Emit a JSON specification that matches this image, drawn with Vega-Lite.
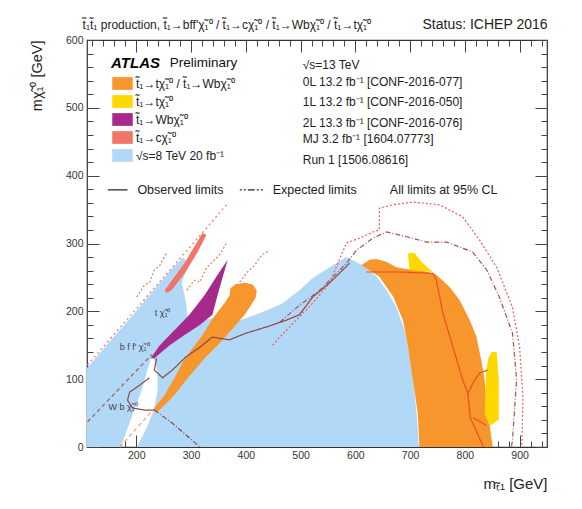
{
"$schema":"https://vega.github.io/schema/vega-lite/v6.json",
"autosize":{"type":"none"},
"width":460,"height":407,
"padding":{"left":87,"top":40,"right":35,"bottom":62},
"background":"white",
"config":{"view":{"stroke":"#333","strokeWidth":1.2},"font":"Liberation Sans"},
"datasets":{
"poly":[
{"r":"b","p":"b","x":110,"y":0},{"r":"b","p":"b","x":110,"y":116.5},{"r":"b","p":"b","x":151,"y":155},{"r":"b","p":"b","x":197,"y":197.5},{"r":"b","p":"b","x":243,"y":242},{"r":"b","p":"b","x":266,"y":264},{"r":"b","p":"b","x":285,"y":279},{"r":"b","p":"b","x":297,"y":271},{"r":"b","p":"b","x":283,"y":243},{"r":"b","p":"b","x":290,"y":217},{"r":"b","p":"b","x":294,"y":190},{"r":"b","p":"b","x":325,"y":187},{"r":"b","p":"b","x":338,"y":190},{"r":"b","p":"b","x":389,"y":187},{"r":"b","p":"b","x":418,"y":195},{"r":"b","p":"b","x":443,"y":203},{"r":"b","p":"b","x":467,"y":212},{"r":"b","p":"b","x":498,"y":231},{"r":"b","p":"b","x":522,"y":249},{"r":"b","p":"b","x":553,"y":265},{"r":"b","p":"b","x":584,"y":280},{"r":"b","p":"b","x":613,"y":268},{"r":"b","p":"b","x":639,"y":251},{"r":"b","p":"b","x":657,"y":231},{"r":"b","p":"b","x":675,"y":206},{"r":"b","p":"b","x":690,"y":172},{"r":"b","p":"b","x":703,"y":118},{"r":"b","p":"b","x":712,"y":50},{"r":"b","p":"b","x":716,"y":0},{"r":"b","p":"b","x":201,"y":0},{"r":"b","p":"b","x":219,"y":28},{"r":"b","p":"b","x":233,"y":57},{"r":"b","p":"b","x":239,"y":84},{"r":"b","p":"b","x":239,"y":111},{"r":"b","p":"b","x":233,"y":128},{"r":"b","p":"b","x":228,"y":133},{"r":"b","p":"b","x":220,"y":113},{"r":"b","p":"b","x":210,"y":84},{"r":"b","p":"b","x":193,"y":47},{"r":"b","p":"b","x":180,"y":18},{"r":"b","p":"b","x":172,"y":0},
{"r":"s","p":"s","x":252,"y":231},{"r":"s","p":"s","x":264.5,"y":245},{"r":"s","p":"s","x":288,"y":271},{"r":"s","p":"s","x":308,"y":298},{"r":"s","p":"s","x":321,"y":315.5},{"r":"s","p":"s","x":328,"y":312.5},{"r":"s","p":"s","x":312,"y":287.5},{"r":"s","p":"s","x":290,"y":258},{"r":"s","p":"s","x":264.5,"y":231},{"r":"s","p":"s","x":255,"y":227},
{"r":"pu","p":"pu","x":226,"y":131},{"r":"pu","p":"pu","x":243,"y":150},{"r":"pu","p":"pu","x":270,"y":172.5},{"r":"pu","p":"pu","x":297,"y":195},{"r":"pu","p":"pu","x":325,"y":224},{"r":"pu","p":"pu","x":348.5,"y":254},{"r":"pu","p":"pu","x":367,"y":276},{"r":"pu","p":"pu","x":359,"y":254},{"r":"pu","p":"pu","x":348.5,"y":224},{"r":"pu","p":"pu","x":339,"y":195},{"r":"pu","p":"pu","x":316,"y":180},{"r":"pu","p":"pu","x":288,"y":165},{"r":"pu","p":"pu","x":261,"y":150},{"r":"pu","p":"pu","x":233,"y":131},
{"r":"o","p":"o1","x":230,"y":54.5},{"r":"o","p":"o1","x":252,"y":77},{"r":"o","p":"o1","x":270,"y":102},{"r":"o","p":"o1","x":285,"y":125},{"r":"o","p":"o1","x":303,"y":146},{"r":"o","p":"o1","x":321,"y":165},{"r":"o","p":"o1","x":337.5,"y":187},{"r":"o","p":"o1","x":348.5,"y":199},{"r":"o","p":"o1","x":361,"y":212},{"r":"o","p":"o1","x":370,"y":223},{"r":"o","p":"o1","x":372,"y":234},{"r":"o","p":"o1","x":381,"y":240},{"r":"o","p":"o1","x":398,"y":242},{"r":"o","p":"o1","x":412,"y":240},{"r":"o","p":"o1","x":420,"y":231},{"r":"o","p":"o1","x":418,"y":220},{"r":"o","p":"o1","x":407,"y":206},{"r":"o","p":"o1","x":398,"y":195},{"r":"o","p":"o1","x":389,"y":187},{"r":"o","p":"o1","x":374,"y":172.5},{"r":"o","p":"o1","x":361,"y":161},{"r":"o","p":"o1","x":348.5,"y":150},{"r":"o","p":"o1","x":325,"y":131},{"r":"o","p":"o1","x":306.5,"y":113.5},{"r":"o","p":"o1","x":288,"y":96},{"r":"o","p":"o1","x":270,"y":77},{"r":"o","p":"o1","x":252,"y":62},{"r":"o","p":"o1","x":239,"y":52},
{"r":"o","p":"o2","x":611,"y":268},{"r":"o","p":"o2","x":626,"y":276},{"r":"o","p":"o2","x":638,"y":277},{"r":"o","p":"o2","x":656.5,"y":273},{"r":"o","p":"o2","x":675,"y":265},{"r":"o","p":"o2","x":696,"y":262},{"r":"o","p":"o2","x":723,"y":260},{"r":"o","p":"o2","x":748,"y":254},{"r":"o","p":"o2","x":772,"y":236},{"r":"o","p":"o2","x":790,"y":217},{"r":"o","p":"o2","x":809,"y":187},{"r":"o","p":"o2","x":821,"y":163},{"r":"o","p":"o2","x":830,"y":128},{"r":"o","p":"o2","x":836,"y":99},{"r":"o","p":"o2","x":842,"y":50},{"r":"o","p":"o2","x":851,"y":0},{"r":"o","p":"o2","x":717,"y":0},{"r":"o","p":"o2","x":714,"y":50},{"r":"o","p":"o2","x":705,"y":99},{"r":"o","p":"o2","x":696,"y":148},{"r":"o","p":"o2","x":687,"y":187},{"r":"o","p":"o2","x":669,"y":222},{"r":"o","p":"o2","x":644,"y":251},{"r":"o","p":"o2","x":620,"y":263},
{"r":"y","p":"y1","x":696,"y":285.5},{"r":"y","p":"y1","x":708,"y":286},{"r":"y","p":"y1","x":721,"y":273},{"r":"y","p":"y1","x":741,"y":258},{"r":"y","p":"y1","x":717,"y":259.5},{"r":"y","p":"y1","x":699,"y":261},
{"r":"y","p":"y2","x":839,"y":113.5},{"r":"y","p":"y2","x":843,"y":131},{"r":"y","p":"y2","x":849,"y":140},{"r":"y","p":"y2","x":858,"y":140},{"r":"y","p":"y2","x":862,"y":99},{"r":"y","p":"y2","x":862,"y":40},{"r":"y","p":"y2","x":845,"y":31},{"r":"y","p":"y2","x":836,"y":50}
],
"lines":[
{"c":"expR","s":"a","x":449,"y":150},{"c":"expR","s":"a","x":462,"y":162},{"c":"expR","s":"a","x":522,"y":212},{"c":"expR","s":"a","x":553,"y":242},{"c":"expR","s":"a","x":584,"y":301},{"c":"expR","s":"a","x":608,"y":308},{"c":"expR","s":"a","x":632,"y":317},{"c":"expR","s":"a","x":644,"y":320},{"c":"expR","s":"a","x":644,"y":352},{"c":"expR","s":"a","x":668,"y":357},{"c":"expR","s":"a","x":705,"y":361},{"c":"expR","s":"a","x":754,"y":357},{"c":"expR","s":"a","x":796,"y":339},{"c":"expR","s":"a","x":827,"y":305},{"c":"expR","s":"a","x":858,"y":265},{"c":"expR","s":"a","x":887,"y":206},{"c":"expR","s":"a","x":900,"y":147},{"c":"expR","s":"a","x":906,"y":74},{"c":"expR","s":"a","x":904,"y":0},
{"c":"expB","s":"b","x":462,"y":184},{"c":"expB","s":"b","x":498,"y":209},{"c":"expB","s":"b","x":535,"y":231},{"c":"expB","s":"b","x":584,"y":271},{"c":"expB","s":"b","x":602,"y":290},{"c":"expB","s":"b","x":632,"y":308},{"c":"expB","s":"b","x":657,"y":317},{"c":"expB","s":"b","x":694,"y":310},{"c":"expB","s":"b","x":730,"y":302},{"c":"expB","s":"b","x":767,"y":302},{"c":"expB","s":"b","x":814,"y":287.5},{"c":"expB","s":"b","x":840,"y":261},{"c":"expB","s":"b","x":863,"y":221},{"c":"expB","s":"b","x":887,"y":168},{"c":"expB","s":"b","x":894.5,"y":99},{"c":"expB","s":"b","x":887,"y":10},{"c":"expB","s":"b","x":885,"y":0},
{"c":"obsB","s":"c","x":237,"y":131},{"c":"obsB","s":"c","x":233,"y":113.5},{"c":"obsB","s":"c","x":248,"y":102},{"c":"obsB","s":"c","x":266,"y":113.5},{"c":"obsB","s":"c","x":291,"y":133},{"c":"obsB","s":"c","x":316,"y":147},{"c":"obsB","s":"c","x":339,"y":162},{"c":"obsB","s":"c","x":370,"y":158},{"c":"obsB","s":"c","x":401,"y":168},{"c":"obsB","s":"c","x":438,"y":177},{"c":"obsB","s":"c","x":474,"y":187},{"c":"obsB","s":"c","x":498,"y":195},{"c":"obsB","s":"c","x":522,"y":221},{"c":"obsB","s":"c","x":553,"y":242},{"c":"obsB","s":"c","x":577,"y":261},{"c":"obsB","s":"c","x":589.5,"y":271},
{"c":"obsB","s":"d","x":224,"y":102},{"c":"obsB","s":"d","x":206,"y":91},{"c":"obsB","s":"d","x":188,"y":81},{"c":"obsB","s":"d","x":184,"y":69},{"c":"obsB","s":"d","x":193,"y":57.5},{"c":"obsB","s":"d","x":215,"y":54.5},{"c":"obsB","s":"d","x":233,"y":54.5},
{"c":"ddB","s":"e","x":233,"y":54.5},{"c":"ddB","s":"e","x":266,"y":35},{"c":"ddB","s":"e","x":316,"y":0},
{"c":"obsO","s":"f","x":620,"y":258},{"c":"obsO","s":"f","x":681,"y":258},{"c":"obsO","s":"f","x":742,"y":256},{"c":"obsO","s":"f","x":748,"y":246},{"c":"obsO","s":"f","x":760,"y":197},{"c":"obsO","s":"f","x":778,"y":148},{"c":"obsO","s":"f","x":796,"y":99},{"c":"obsO","s":"f","x":805.5,"y":79},{"c":"obsO","s":"f","x":818,"y":99},{"c":"obsO","s":"f","x":827,"y":109},{"c":"obsO","s":"f","x":842,"y":113.5},
{"c":"obsO","s":"g","x":805.5,"y":79},{"c":"obsO","s":"g","x":810,"y":43},{"c":"obsO","s":"g","x":834,"y":0},
{"c":"obsO","s":"h","x":815,"y":43},{"c":"obsO","s":"h","x":839,"y":32},
{"c":"d1","s":"i","x":111,"y":121},{"c":"d1","s":"i","x":365,"y":357},
{"c":"d2","s":"j","x":111,"y":37},{"c":"d2","s":"j","x":228,"y":136},
{"c":"d3","s":"k","x":170,"y":0},{"c":"d3","s":"k","x":230,"y":54.5},
{"c":"jag","s":"l","x":201,"y":221},{"c":"jag","s":"l","x":215,"y":239},{"c":"jag","s":"l","x":224,"y":242},{"c":"jag","s":"l","x":233,"y":261},{"c":"jag","s":"l","x":243,"y":268},{"c":"jag","s":"l","x":255,"y":286},
{"c":"jag","s":"m","x":292,"y":231},{"c":"jag","s":"m","x":306.5,"y":246},{"c":"jag","s":"m","x":316,"y":243},{"c":"jag","s":"m","x":328,"y":264},{"c":"jag","s":"m","x":343,"y":276},{"c":"jag","s":"m","x":352,"y":283},{"c":"jag","s":"m","x":365,"y":301},
{"c":"jag","s":"n","x":389,"y":243},{"c":"jag","s":"n","x":403,"y":258},{"c":"jag","s":"n","x":416,"y":268},{"c":"jag","s":"n","x":429,"y":283},{"c":"jag","s":"n","x":443,"y":290},
{"c":"keyObs","s":"o","x":148,"y":379},{"c":"keyObs","s":"o","x":184,"y":379},
{"c":"keyExp","s":"p","x":389,"y":379},{"c":"keyExp","s":"p","x":431,"y":379}
],
"notes":[
{"g":"hl","x":102,"y":622,"t":"t\u0303\u2081t\u0303\u2081 production, t\u0303\u2081\u2192bff'\u03c7\u0303\u2081\u2070 / t\u0303\u2081\u2192c\u03c7\u0303\u2081\u2070 / t\u0303\u2081\u2192Wb\u03c7\u0303\u2081\u2070 / t\u0303\u2081\u2192t\u03c7\u0303\u2081\u2070"},
{"g":"hr","x":951,"y":622,"t":"Status: ICHEP 2016"},
{"g":"atlas","x":154,"y":566,"t":"ATLAS"},
{"g":"prel","x":261,"y":566,"t":"Preliminary"},
{"g":"col","x":504,"y":563,"t":"\u221as=13 TeV"},
{"g":"col","x":504,"y":537.6,"t":"0L 13.2 fb\u207b\u00b9 [CONF-2016-077]"},
{"g":"col","x":504,"y":508.2,"t":"1L 13.2 fb\u207b\u00b9 [CONF-2016-050]"},
{"g":"col","x":504,"y":477.2,"t":"2L 13.3 fb\u207b\u00b9 [CONF-2016-076]"},
{"g":"col","x":504,"y":453.6,"t":"MJ 3.2 fb\u207b\u00b9 [1604.07773]"},
{"g":"col","x":504,"y":422.8,"t":"Run 1 [1506.08616]"},
{"g":"row","x":202,"y":379,"t":"Observed limits"},
{"g":"row","x":449,"y":379,"t":"Expected limits"},
{"g":"row","x":663,"y":379,"t":"All limits at 95% CL"},
{"g":"lab","x":248,"y":197.5,"t":"t \u03c7\u0303\u2081\u2070"},
{"g":"lab","x":197,"y":147,"t":"b f f' \u03c7\u0303\u2081\u2070"},
{"g":"lab","x":176,"y":59,"t":"W b \u03c7\u0303\u2081\u2070"}
]
},
"resolve":{"axis":{"x":"independent","y":"independent"}},
"layer":[
{"data":{"name":"poly"},"transform":[{"filter":"datum.r == 'b'"}],
 "mark":{"type":"line","filled":true,"interpolate":"linear-closed","strokeWidth":0},
 "encoding":{
  "x":{"field":"x","type":"quantitative","scale":{"domain":[110,950],"nice":false,"zero":false},
   "axis":{"orient":"bottom","values":[200,300,400,500,600,700,800,900],"tickSize":-12,"tickColor":"#444","labelPadding":15,"labelFontSize":10.5,"labelColor":"#333","labelFont":"Liberation Sans","domain":false,"grid":false,"title":"m\u209c\u0303\u2081 [GeV]","titleAnchor":"end","titleFontSize":15,"titleFontWeight":"normal","titleFont":"Liberation Sans","titleColor":"#222","titlePadding":16}},
  "y":{"field":"y","type":"quantitative","scale":{"domain":[0,600],"nice":false,"zero":false},
   "axis":{"orient":"left","values":[0,100,200,300,400,500,600],"tickSize":-12,"tickColor":"#444","labelPadding":16,"labelFontSize":10.5,"labelColor":"#333","labelFont":"Liberation Sans","domain":false,"grid":false,"title":"m\u03c7\u0303\u2081\u2070 [GeV]","titleAnchor":"end","titleFontSize":14.5,"titleFontWeight":"normal","titleFont":"Liberation Sans","titleColor":"#222","titlePadding":21}},
  "fill":{"field":"r","type":"nominal","scale":{"domain":["o","y","pu","s","b"],"range":["#f8962e","#ffd800","#a52a8c","#f07468","#b2d8f8"]},
   "legend":{"orient":"none","legendX":25,"legendY":33,"title":null,"padding":0,"symbolType":"M-1,-0.62H1V0.62H-1Z","symbolSize":420,"symbolStrokeWidth":0,"symbolOpacity":1,"labelFontSize":12,"labelFont":"Liberation Sans","labelColor":"#222","labelOffset":3,"rowPadding":1,
   "labelExpr":"datum.label == 'o' ? 't\u0303\u2081\u2192t\u03c7\u0303\u2081\u2070 / t\u0303\u2081\u2192Wb\u03c7\u0303\u2081\u2070' : datum.label == 'y' ? 't\u0303\u2081\u2192t\u03c7\u0303\u2081\u2070' : datum.label == 'pu' ? 't\u0303\u2081\u2192Wb\u03c7\u0303\u2081\u2070' : datum.label == 's' ? 't\u0303\u2081\u2192c\u03c7\u0303\u2081\u2070' : '\u221as=8 TeV 20 fb\u207b\u00b9'"}},
  "order":{"value":null}}},
{"data":{"name":"poly"},"transform":[{"filter":"datum.r == 's'"}],
 "mark":{"type":"line","filled":true,"interpolate":"linear-closed","strokeWidth":0},
 "encoding":{
  "x":{"field":"x","type":"quantitative","axis":{"orient":"bottom","values":[120,140,160,180,220,240,260,280,320,340,360,380,420,440,460,480,520,540,560,580,620,640,660,680,720,740,760,780,820,840,860,880,920,940],"tickSize":-6,"tickColor":"#444","labels":false,"domain":false,"grid":false,"title":null}},
  "y":{"field":"y","type":"quantitative","axis":{"orient":"left","values":[20,40,60,80,120,140,160,180,220,240,260,280,320,340,360,380,420,440,460,480,520,540,560,580],"tickSize":-6,"tickColor":"#444","labels":false,"domain":false,"grid":false,"title":null}},
  "fill":{"field":"r","type":"nominal"},
  "order":{"value":null}}},
{"data":{"name":"poly"},"transform":[{"filter":"datum.r == 'pu'"}],
 "mark":{"type":"line","filled":true,"interpolate":"linear-closed","strokeWidth":0},
 "encoding":{
  "x":{"field":"x","type":"quantitative","axis":{"orient":"top","values":[200,300,400,500,600,700,800,900],"tickSize":-12,"tickColor":"#444","labels":false,"domain":false,"grid":false,"title":null}},
  "y":{"field":"y","type":"quantitative","axis":{"orient":"right","values":[0,100,200,300,400,500,600],"tickSize":-12,"tickColor":"#444","labels":false,"domain":false,"grid":false,"title":null}},
  "fill":{"field":"r","type":"nominal"},
  "order":{"value":null}}},
{"data":{"name":"poly"},"transform":[{"filter":"datum.r == 'o'"}],
 "mark":{"type":"line","filled":true,"interpolate":"linear-closed","strokeWidth":0},
 "encoding":{
  "x":{"field":"x","type":"quantitative","axis":{"orient":"top","values":[120,140,160,180,220,240,260,280,320,340,360,380,420,440,460,480,520,540,560,580,620,640,660,680,720,740,760,780,820,840,860,880,920,940],"tickSize":-6,"tickColor":"#444","labels":false,"domain":false,"grid":false,"title":null}},
  "y":{"field":"y","type":"quantitative","axis":{"orient":"right","values":[20,40,60,80,120,140,160,180,220,240,260,280,320,340,360,380,420,440,460,480,520,540,560,580],"tickSize":-6,"tickColor":"#444","labels":false,"domain":false,"grid":false,"title":null}},
  "fill":{"field":"r","type":"nominal"},
  "detail":{"field":"p"},
  "order":{"value":null}}},
{"data":{"name":"poly"},"transform":[{"filter":"datum.r == 'y'"}],
 "mark":{"type":"line","filled":true,"interpolate":"linear-closed","strokeWidth":0},
 "encoding":{
  "x":{"field":"x","type":"quantitative","axis":null},
  "y":{"field":"y","type":"quantitative","axis":null},
  "fill":{"field":"r","type":"nominal"},
  "detail":{"field":"p"},
  "order":{"value":null}}},
{"data":{"name":"lines"},
 "mark":{"type":"line"},
 "encoding":{
  "x":{"field":"x","type":"quantitative","axis":null},
  "y":{"field":"y","type":"quantitative","axis":null},
  "stroke":{"field":"c","type":"nominal","legend":null,"scale":{"domain":["expR","expB","obsB","ddB","obsO","d1","d2","d3","jag","keyObs","keyExp"],"range":["#f25a55","#a8504c","#8a4848","#8a4848","#e8501e","#f07a5a","#a05a55","#f0a070","#e08070","#222222","#222222"]}},
  "strokeDash":{"field":"c","type":"nominal","legend":null,"scale":{"domain":["expR","expB","obsB","ddB","obsO","d1","d2","d3","jag","keyObs","keyExp"],"range":[[2,2],[5,2,1,2],[1,0],[5,2,1,2],[1,0],[2,3],[4,3],[4,3],[2,2],[1,0],[2,2,2,2,7,2]]}},
  "strokeWidth":{"field":"c","type":"nominal","legend":null,"scale":{"domain":["expR","expB","obsB","ddB","obsO","d1","d2","d3","jag","keyObs","keyExp"],"range":[1.2,1.2,1.5,1.3,1.5,1.3,1.2,1.2,1,2,1.6]}},
  "detail":{"field":"s"},
  "order":{"value":null}}},
{"data":{"name":"notes"},"transform":[{"filter":"datum.g == 'hl'"}],
 "mark":{"type":"text","align":"left","baseline":"middle","fontSize":12,"color":"#222"},
 "encoding":{"x":{"field":"x","type":"quantitative","axis":null},"y":{"field":"y","type":"quantitative","axis":null},"text":{"field":"t"}}},
{"data":{"name":"notes"},"transform":[{"filter":"datum.g == 'hr'"}],
 "mark":{"type":"text","align":"right","baseline":"middle","fontSize":14,"color":"#222"},
 "encoding":{"x":{"field":"x","type":"quantitative","axis":null},"y":{"field":"y","type":"quantitative","axis":null},"text":{"field":"t"}}},
{"data":{"name":"notes"},"transform":[{"filter":"datum.g == 'atlas'"}],
 "mark":{"type":"text","align":"left","baseline":"middle","fontSize":15,"fontWeight":"bold","fontStyle":"italic","color":"#000"},
 "encoding":{"x":{"field":"x","type":"quantitative","axis":null},"y":{"field":"y","type":"quantitative","axis":null},"text":{"field":"t"}}},
{"data":{"name":"notes"},"transform":[{"filter":"datum.g == 'prel'"}],
 "mark":{"type":"text","align":"left","baseline":"middle","fontSize":13.5,"color":"#111"},
 "encoding":{"x":{"field":"x","type":"quantitative","axis":null},"y":{"field":"y","type":"quantitative","axis":null},"text":{"field":"t"}}},
{"data":{"name":"notes"},"transform":[{"filter":"datum.g == 'col'"}],
 "mark":{"type":"text","align":"left","baseline":"middle","fontSize":12,"color":"#222"},
 "encoding":{"x":{"field":"x","type":"quantitative","axis":null},"y":{"field":"y","type":"quantitative","axis":null},"text":{"field":"t"}}},
{"data":{"name":"notes"},"transform":[{"filter":"datum.g == 'row'"}],
 "mark":{"type":"text","align":"left","baseline":"middle","fontSize":12.5,"color":"#222"},
 "encoding":{"x":{"field":"x","type":"quantitative","axis":null},"y":{"field":"y","type":"quantitative","axis":null},"text":{"field":"t"}}},
{"data":{"name":"notes"},"transform":[{"filter":"datum.g == 'lab'"}],
 "mark":{"type":"text","align":"center","baseline":"middle","fontSize":9,"color":"#444"},
 "encoding":{"x":{"field":"x","type":"quantitative","axis":null},"y":{"field":"y","type":"quantitative","axis":null},"text":{"field":"t"}}}
]
}
